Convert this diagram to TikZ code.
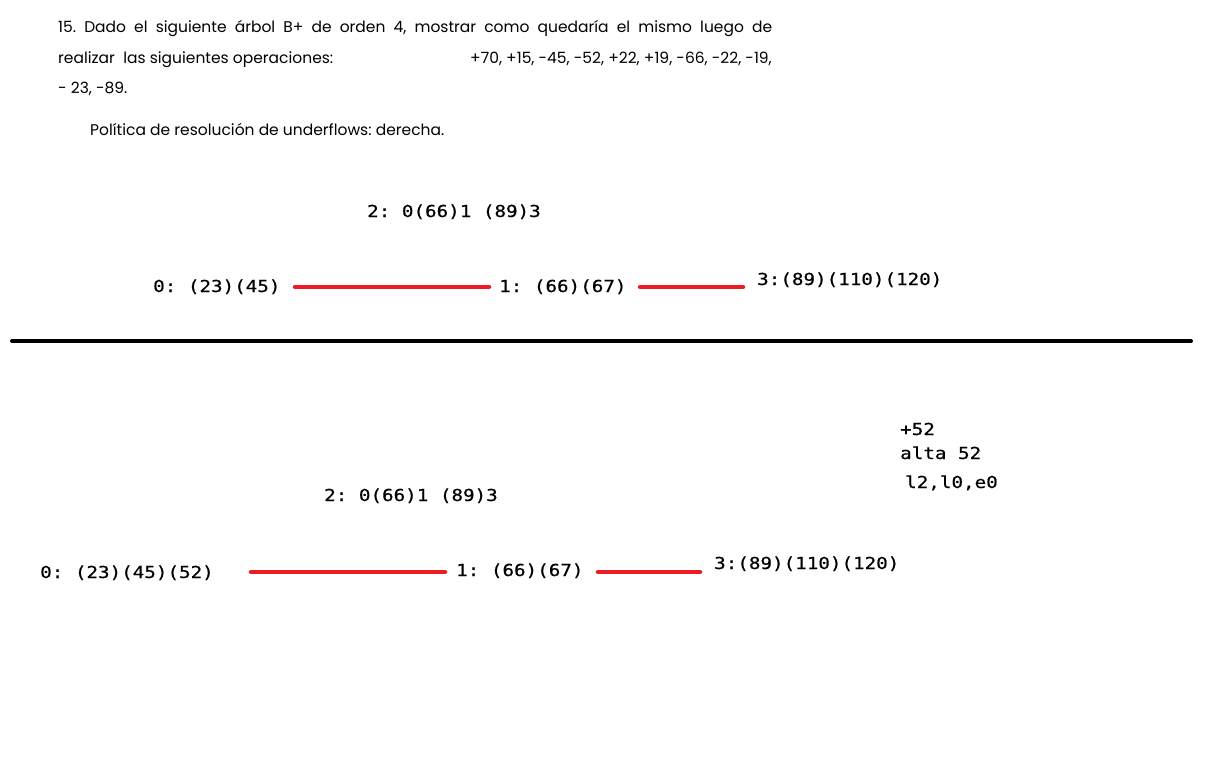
\documentclass[tikz,border=0pt]{standalone}
\usepackage{fontspec}
\setmainfont{Poppins}
\newfontfamily\mono[FakeStretch=1.165,FakeBold=0.6]{DejaVu Sans Mono}
\definecolor{linered}{RGB}{237,28,36}
\frenchspacing
\begin{document}
\begin{tikzpicture}[x=1pt,y=-1pt,
  body/.style={inner sep=0pt,anchor=base west,font=\fontsize{15.5}{18}\selectfont},
  mono/.style={inner sep=0pt,anchor=base west,font=\mono\fontsize{16.5}{20}\selectfont},
  link/.style={draw=linered,line width=4.5pt,line cap=round},
  rule/.style={draw=black,line width=4pt,line cap=round}]
\useasboundingbox[fill=white] (0,0) rectangle (1208,784);
% statement
\node[body] (l1) at (58,33) {\makebox[714pt][s]{15. Dado el siguiente árbol B+ de orden 4, mostrar como quedaría el mismo luego de}};
\node[body] (l2a) at (58,64) {realizar\ \ las siguientes operaciones:};
\node[body,anchor=base east] (l2b) at (772,64) {+70, +15, -45, -52, +22, +19, -66, -22, -19,};
\node[body] (l3) at (58,93) {- 23, -89.};
\node[body] (pol) at (90,135) {Política de resolución de underflows: derecha.};
% tree 1
\node[mono] (r1) at (367,217) {2: 0(66)1 (89)3};
\node[mono] (a0) at (153,292) {0: (23)(45)};
\node[mono] (a1) at (499,292) {1: (66)(67)};
\node[mono] (a3) at (757,285) {3:(89)(110)(120)};
\coordinate (p1) at (295,287);
\coordinate (p2) at (489,287);
\coordinate (p3) at (640,287);
\coordinate (p4) at (743,287);
\draw[link] (p1) -- (p2);
\draw[link] (p3) -- (p4);
% separator
\coordinate (s1) at (12,341);
\coordinate (s2) at (1191,341);
\draw[rule] (s1) -- (s2);
% tree 2
\node[mono] (n1) at (900,435) {+52};
\node[mono] (n2) at (900,459) {alta 52};
\node[mono] (n3) at (905,488) {l2,l0,e0};
\node[mono] (r2) at (324,501) {2: 0(66)1 (89)3};
\node[mono] (b0) at (40,578) {0: (23)(45)(52)};
\node[mono] (b1) at (456,576) {1: (66)(67)};
\node[mono] (b3) at (714,569) {3:(89)(110)(120)};
\coordinate (q1) at (251,572);
\coordinate (q2) at (445,572);
\coordinate (q3) at (598,572);
\coordinate (q4) at (700,572);
\draw[link] (q1) -- (q2);
\draw[link] (q3) -- (q4);
\end{tikzpicture}
\end{document}
